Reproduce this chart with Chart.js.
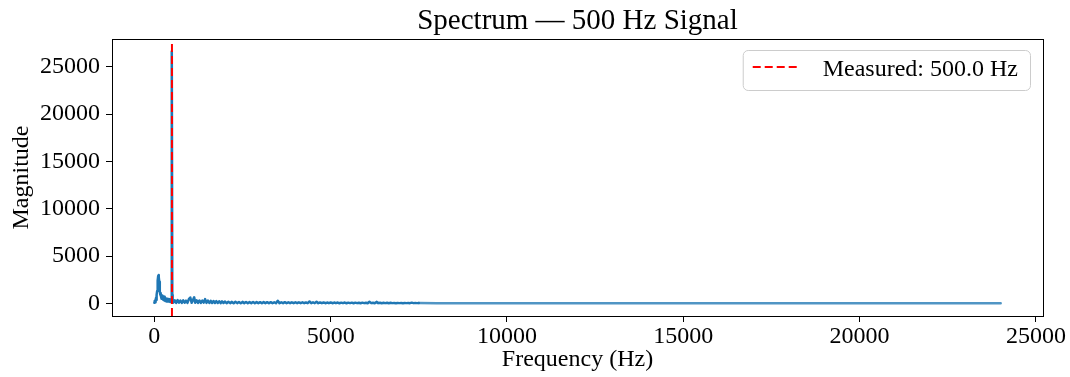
<!DOCTYPE html>
<html>
<head>
<meta charset="utf-8">
<script src="https://cdn.jsdelivr.net/npm/chart.js@4.4.0/dist/chart.umd.min.js"></script>
<style>
  body { margin: 0; background: #fff; }
  #wrap { width: 1070px; height: 377px; }
</style>
</head>
<body>
<div id="wrap"><canvas id="spectrumChart"></canvas></div>
<script>
// Spectrum, as [Hz, magnitude] pairs
// low-frequency hump below the tone
const humpBand = [
    [0, 80], [10, 250], [20, 120], [30, 400], [40, 180], [50, 600], [60, 350], [70, 900], [80, 1300], [90, 1800],
    [100, 2400], [110, 2900], [120, 3000], [130, 2800], [140, 2300], [150, 1700], [160, 1300], [170, 900], [180, 1100], [190, 700],
    [200, 900], [210, 500], [220, 800], [230, 450], [240, 700], [250, 400], [260, 650], [270, 350], [280, 700], [290, 300],
    [300, 600], [310, 250], [320, 550], [330, 300], [340, 500], [350, 200], [360, 450], [370, 250], [380, 500], [390, 200],
    [400, 400], [410, 250], [420, 450], [430, 200], [440, 400], [450, 150], [460, 350], [470, 250], [480, 400], [490, 900]
];
// the 500 Hz tone
const toneBand = [[500, 26600], [510, 900], [520, 300]];
// noisy skirt up to 2 kHz
const skirtBand = [
    [540, 80], [580, 320], [620, 60], [660, 350], [700, 80], [740, 300], [780, 50], [820, 330], [860, 70], [900, 290],
    [940, 60], [980, 450], [1020, 620], [1060, 60], [1100, 380], [1130, 640], [1160, 70], [1200, 330], [1240, 50], [1280, 310],
    [1320, 60], [1360, 300], [1400, 80], [1440, 450], [1480, 60], [1520, 290], [1560, 50], [1600, 270], [1640, 40], [1680, 250],
    [1720, 50], [1760, 240], [1800, 40], [1840, 230], [1880, 30], [1920, 210], [1960, 40], [2000, 200]
];
// noise floor 2 - 7.5 kHz
const floorBand = [
    [2050, 20], [2100, 170], [2150, 30], [2200, 160], [2250, 20], [2300, 170], [2350, 30], [2400, 150], [2450, 20], [2500, 160],
    [2550, 30], [2600, 150], [2650, 20], [2700, 140], [2750, 30], [2800, 150], [2850, 20], [2900, 140], [2950, 30], [3000, 130],
    [3050, 20], [3100, 140], [3150, 30], [3200, 130], [3250, 20], [3300, 130], [3350, 30], [3400, 120], [3450, 20], [3500, 270],
    [3550, 30], [3600, 120], [3650, 20], [3700, 130], [3750, 30], [3800, 120], [3850, 20], [3900, 110], [3950, 30], [4000, 120],
    [4050, 20], [4100, 110], [4150, 30], [4200, 110], [4250, 20], [4300, 100], [4350, 30], [4400, 200], [4450, 20], [4500, 110],
    [4550, 30], [4600, 180], [4650, 20], [4700, 100], [4750, 30], [4800, 100], [4850, 20], [4900, 90], [4950, 30], [5000, 100],
    [5050, 20], [5100, 90], [5150, 30], [5200, 90], [5250, 20], [5300, 80], [5350, 30], [5400, 90], [5450, 20], [5500, 80],
    [5550, 30], [5600, 80], [5650, 20], [5700, 80], [5750, 30], [5800, 70], [5850, 20], [5900, 80], [5950, 30], [6000, 70],
    [6050, 20], [6100, 170], [6150, 30], [6200, 70], [6250, 20], [6300, 160], [6350, 30], [6400, 70], [6450, 20], [6500, 60],
    [6550, 30], [6600, 60], [6650, 20], [6700, 60], [6750, 30], [6800, 50], [6850, 20], [6900, 50], [6950, 30], [7000, 50],
    [7050, 25], [7100, 45], [7150, 30], [7200, 45], [7250, 25], [7300, 80], [7350, 30], [7400, 40], [7450, 30], [7500, 35]
];
// flat tail to Nyquist
const tailBand = [
    [8000, 30], [9000, 30], [10000, 30], [11000, 30], [12000, 30], [13000, 30], [14000, 30], [15000, 30], [16000, 30],
    [17000, 30], [18000, 30], [19000, 30], [20000, 30], [21000, 30], [22000, 30], [23000, 30], [24000, 30]
];

// Measured peak marker
const measuredHz = 500.0;
const measuredLabel = 'Measured: 500.0 Hz';
const chartTitle = 'Spectrum — 500 Hz Signal';

// Axis ranges and tick labels
const xRange = [-1200, 25200];
const yRange = [-1330, 27930];
const xTicks = [0, 5000, 10000, 15000, 20000, 25000];
const yTicks = [0, 5000, 10000, 15000, 20000, 25000];
const tailFromHz = 7500; // tail is drawn lighter in the picture

const serif = "'Liberation Serif', 'Times New Roman', serif";

const spectrum = [...humpBand, ...toneBand, ...skirtBand, ...floorBand, ...tailBand]
    .map(([x, y]) => ({ x, y }));

// Matplotlib-style frame round the plot area, title centred on the axes
const framePlugin = {
    id: 'frame',
    afterDatasetsDraw(chart) {
        const { ctx, chartArea: a } = chart;
        ctx.save();
        ctx.strokeStyle = '#000';
        ctx.lineWidth = 1;
        ctx.strokeRect(Math.round(a.left) + 0.5, Math.round(a.top) + 0.5,
            Math.round(a.right - a.left), Math.round(a.bottom - a.top));
        ctx.font = `29px ${serif}`;
        ctx.fillStyle = '#000';
        ctx.textAlign = 'center';
        ctx.textBaseline = 'alphabetic';
        ctx.fillText(chartTitle, (a.left + a.right) / 2, 29);
        ctx.restore();
    }
};

// Legend box inside the axes, upper right
const insideLegend = {
    id: 'insideLegend',
    afterDraw(chart) {
        const { ctx, chartArea: a } = chart;
        const items = chart.data.datasets.filter(d => d.inLegend);
        ctx.save();
        ctx.font = `24px ${serif}`;
        const textW = Math.max(...items.map(d => ctx.measureText(d.label).width));
        const right = a.right - 13;
        const top = a.top + 11;
        const w = 10 + 48 + 22 + textW + 12;
        const h = 40;
        const left = right - w;
        ctx.beginPath();
        ctx.roundRect(left + 0.5, top + 0.5, w, h, 5);
        ctx.fillStyle = 'rgba(255,255,255,0.8)';
        ctx.fill();
        ctx.strokeStyle = '#cccccc';
        ctx.lineWidth = 1;
        ctx.stroke();
        items.forEach(d => {
            const cy = top + 17;
            ctx.beginPath();
            ctx.setLineDash(d.borderDash || []);
            ctx.strokeStyle = d.borderColor;
            ctx.lineWidth = d.borderWidth;
            ctx.moveTo(left + 10, cy);
            ctx.lineTo(left + 58, cy);
            ctx.stroke();
            ctx.setLineDash([]);
            ctx.fillStyle = '#000';
            ctx.textBaseline = 'middle';
            ctx.fillText(d.label, left + 80, cy + 3);
        });
        ctx.restore();
    }
};

const axisCommon = {
    grid: {
        drawOnChartArea: false,
        drawTicks: true,
        tickLength: 6,
        color: '#000',
    },
    border: { display: false },
};

const ctx = document.getElementById('spectrumChart').getContext('2d');
const spectrumChart = new Chart(ctx, {
    type: 'line',
    data: {
        datasets: [
            {
                label: measuredLabel,
                data: [{ x: measuredHz, y: yRange[0] }, { x: measuredHz, y: yRange[1] }],
                borderColor: '#ff0000',
                borderWidth: 2,
                borderDash: [8, 4],
                pointRadius: 0,
                order: 0,
                inLegend: true,
            },
            {
                label: 'Spectrum',
                data: spectrum,
                borderColor: '#1f77b4',
                borderWidth: 2.5,
                borderJoinStyle: 'round',
                borderCapStyle: 'round',
                pointRadius: 0,
                tension: 0,
                order: 1,
                segment: {
                    borderColor: c => (c.p0.parsed.x >= tailFromHz ? 'rgba(31,119,180,0.78)' : undefined),
                },
            },
        ],
    },
    options: {
        responsive: true,
        maintainAspectRatio: false,
        animation: false,
        layout: { padding: { left: 0, right: 27, top: 39, bottom: 0 } },
        scales: {
            x: {
                ...axisCommon,
                type: 'linear',
                min: xRange[0],
                max: xRange[1],
                afterBuildTicks: s => { s.ticks = xTicks.map(v => ({ value: v })); },
                afterFit: s => { s.height = 61; },
                ticks: {
                    color: '#000',
                    padding: 0,
                    maxRotation: 0,
                    font: { family: serif, size: 24 },
                    callback: v => String(v),
                },
                title: {
                    display: true,
                    text: 'Frequency (Hz)',
                    color: '#000',
                    font: { family: serif, size: 24 },
                    padding: { top: 0, bottom: 3 },
                },
            },
            y: {
                ...axisCommon,
                type: 'linear',
                min: yRange[0],
                max: yRange[1],
                afterBuildTicks: s => { s.ticks = yTicks.map(v => ({ value: v })); },
                afterFit: s => { s.width = 112; },
                ticks: {
                    color: '#000',
                    padding: 6,
                    font: { family: serif, size: 24 },
                    callback: v => String(v),
                },
                title: {
                    display: true,
                    text: 'Magnitude',
                    color: '#000',
                    font: { family: serif, size: 24 },
                    padding: { top: 7, bottom: 0 },
                },
            },
        },
        plugins: {
            legend: { display: false },
            tooltip: { enabled: false },
            title: { display: false },
        },
    },
    plugins: [framePlugin, insideLegend],
});
</script>
</body>
</html>
